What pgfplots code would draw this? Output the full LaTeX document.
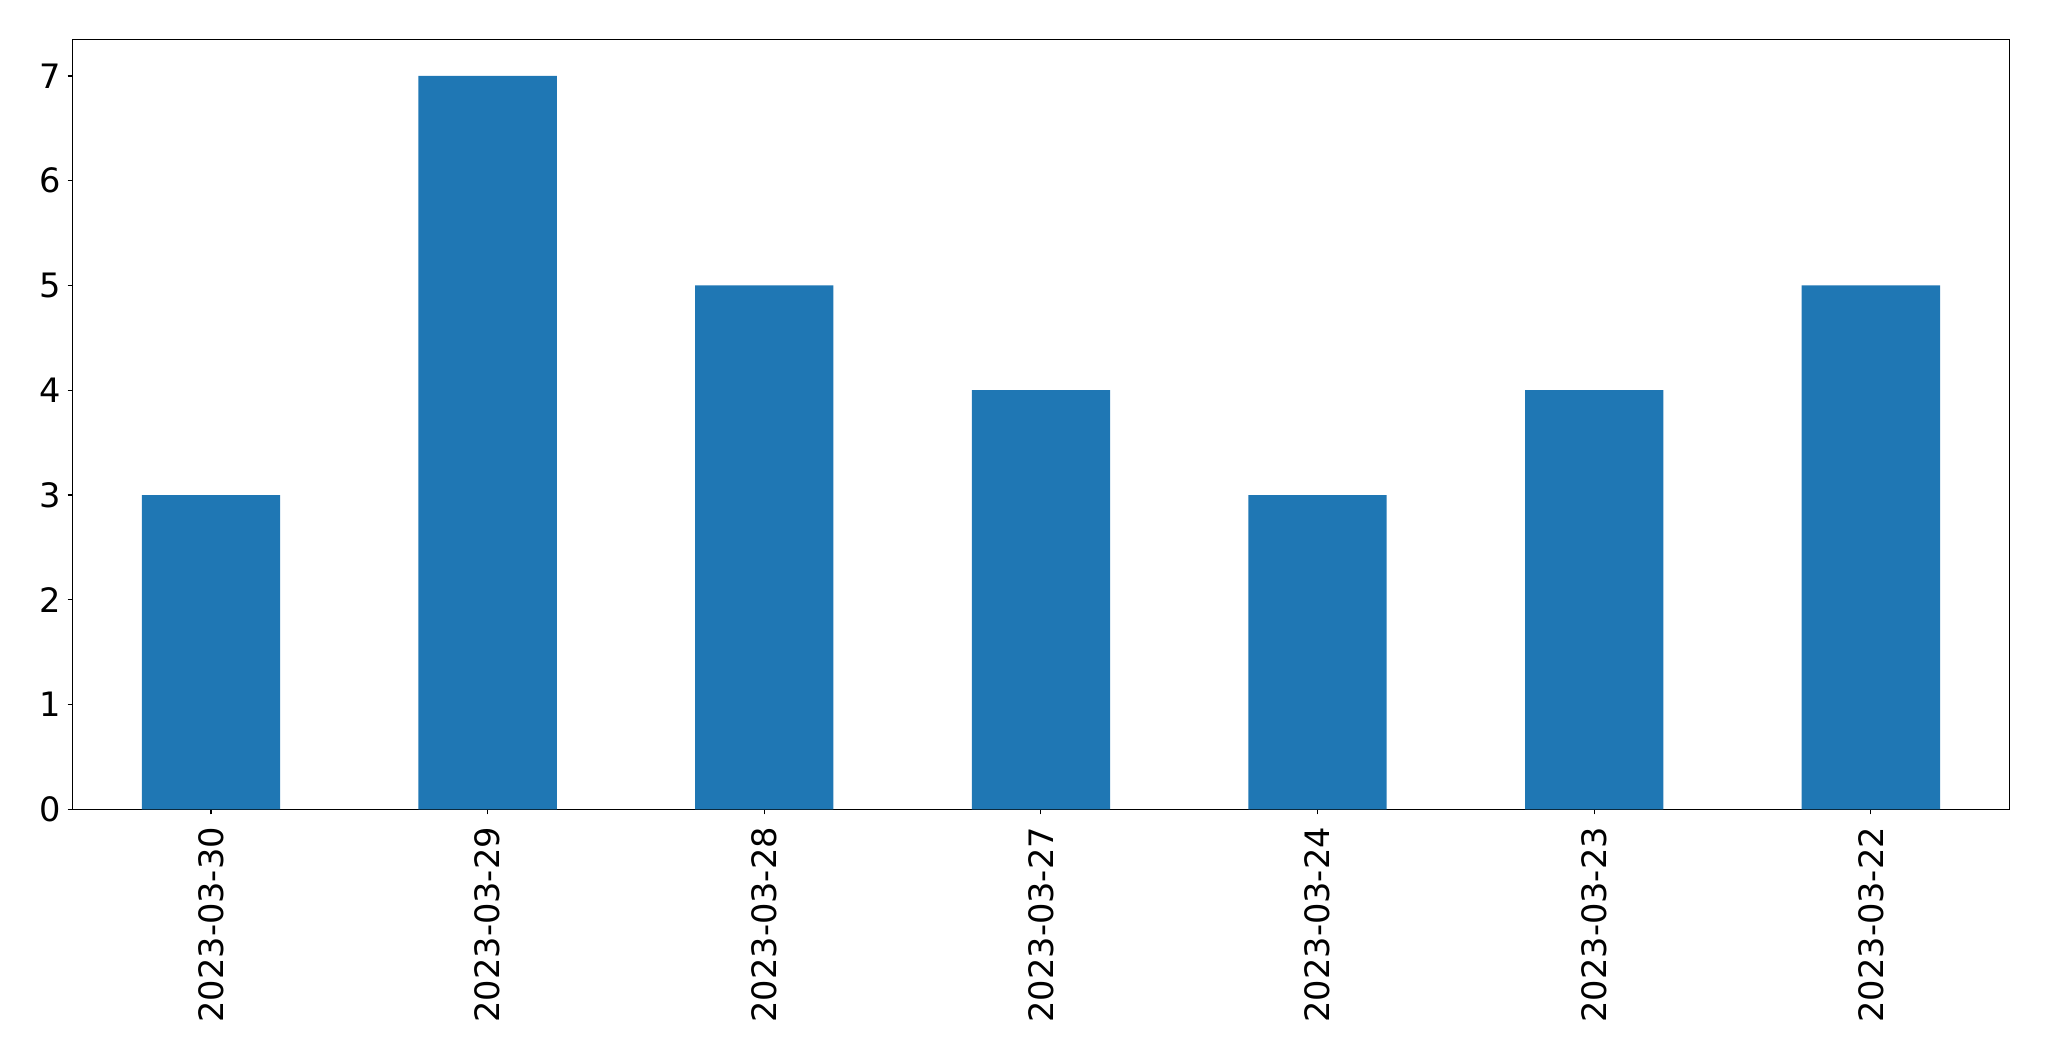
\documentclass[border=0pt]{standalone}
\usepackage{fontspec}
\setmainfont{DejaVu Sans}
\usepackage{pgfplots}
\pgfplotsset{compat=1.18}
\definecolor{mplblue}{HTML}{1F77B4}

\begin{document}
\begin{tikzpicture}
\useasboundingbox (0,0) rectangle (1475.3bp,763.9bp);
\begin{axis}[
  at={(52.3bp,181.2bp)}, anchor=south west,
  scale only axis,
  width=1394.4bp, height=554.4bp,
  xmin=-0.5, xmax=6.5,
  ymin=0, ymax=7.35,
  ytick={0,1,2,3,4,5,6,7},
  xtick=data,
  xticklabels={2023-03-30,2023-03-29,2023-03-28,2023-03-27,2023-03-24,2023-03-23,2023-03-22},
  tick align=outside,
  major tick length=3.6bp,
  tick style={black, line width=0.8bp},
  axis line style={line width=0.8bp},
  xtick pos=bottom, ytick pos=left,
  /pgf/number format/assume math mode=true,
  tick label style={font=\fontsize{24.2bp}{28bp}\selectfont},
  xticklabel style={rotate=90, anchor=east, inner sep=0pt, xshift=-9bp},
  yticklabel style={inner sep=0pt, xshift=-5bp},
  ybar, bar width=0.5,
]
\addplot[fill=mplblue, draw=none, bar shift=0pt] coordinates {
  (0,3) (1,7) (2,5) (3,4) (4,3) (5,4) (6,5)
};
\end{axis}
\end{tikzpicture}
\end{document}
